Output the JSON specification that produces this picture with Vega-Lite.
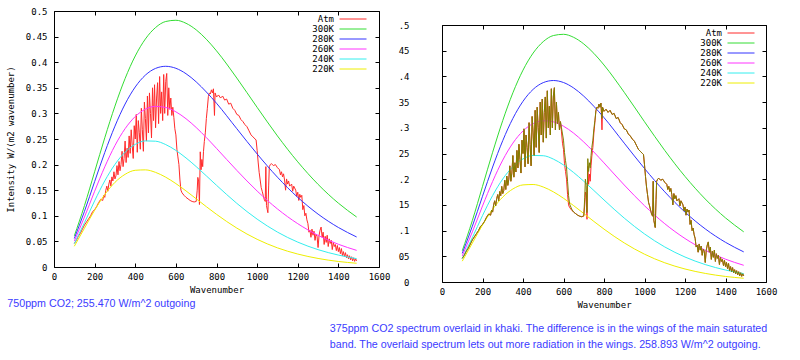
{
  "$schema": "https://vega.github.io/schema/vega-lite/v6.json",
  "background": "white",
  "padding": {"left": 5, "top": 6, "right": 5, "bottom": 5},
  "datasets": {
    "planck": [
      {"s":"300K","x":100,"y":0.0608},{"s":"300K","x":150,"y":0.1199},{"s":"300K","x":200,"y":0.1860},{"s":"300K","x":250,"y":0.2524},{"s":"300K","x":300,"y":0.3142},{"s":"300K","x":350,"y":0.3681},{"s":"300K","x":400,"y":0.4122},{"s":"300K","x":450,"y":0.4454},{"s":"300K","x":500,"y":0.4677},{"s":"300K","x":550,"y":0.4795},{"s":"300K","x":600,"y":0.4819},{"s":"300K","x":650,"y":0.4760},{"s":"300K","x":700,"y":0.4632},{"s":"300K","x":750,"y":0.4448},{"s":"300K","x":800,"y":0.4222},{"s":"300K","x":900,"y":0.3690},{"s":"300K","x":1000,"y":0.3118},{"s":"300K","x":1100,"y":0.2560},{"s":"300K","x":1200,"y":0.2054},{"s":"300K","x":1300,"y":0.1614},{"s":"300K","x":1400,"y":0.1247},{"s":"300K","x":1490,"y":0.0976},
      {"s":"280K","x":100,"y":0.0557},{"s":"280K","x":150,"y":0.1087},{"s":"280K","x":200,"y":0.1668},{"s":"280K","x":250,"y":0.2237},{"s":"280K","x":300,"y":0.2751},{"s":"280K","x":350,"y":0.3183},{"s":"280K","x":400,"y":0.3516},{"s":"280K","x":450,"y":0.3748},{"s":"280K","x":500,"y":0.3879},{"s":"280K","x":550,"y":0.3920},{"s":"280K","x":600,"y":0.3881},{"s":"280K","x":650,"y":0.3775},{"s":"280K","x":700,"y":0.3616},{"s":"280K","x":750,"y":0.3418},{"s":"280K","x":800,"y":0.3198},{"s":"280K","x":900,"y":0.2701},{"s":"280K","x":1000,"y":0.2208},{"s":"280K","x":1100,"y":0.1754},{"s":"280K","x":1200,"y":0.1360},{"s":"280K","x":1300,"y":0.1033},{"s":"280K","x":1400,"y":0.0772},{"s":"280K","x":1490,"y":0.0586},
      {"s":"260K","x":100,"y":0.0506},{"s":"260K","x":150,"y":0.0976},{"s":"260K","x":200,"y":0.1479},{"s":"260K","x":250,"y":0.1956},{"s":"260K","x":300,"y":0.2372},{"s":"260K","x":350,"y":0.2702},{"s":"260K","x":400,"y":0.2939},{"s":"260K","x":450,"y":0.3082},{"s":"260K","x":500,"y":0.3137},{"s":"260K","x":550,"y":0.3116},{"s":"260K","x":600,"y":0.3031},{"s":"260K","x":650,"y":0.2896},{"s":"260K","x":700,"y":0.2724},{"s":"260K","x":750,"y":0.2528},{"s":"260K","x":800,"y":0.2317},{"s":"260K","x":900,"y":0.1887},{"s":"260K","x":1000,"y":0.1484},{"s":"260K","x":1100,"y":0.1134},{"s":"260K","x":1200,"y":0.0846},{"s":"260K","x":1300,"y":0.0618},{"s":"260K","x":1400,"y":0.0444},{"s":"260K","x":1490,"y":0.0325},
      {"s":"240K","x":100,"y":0.0456},{"s":"240K","x":150,"y":0.0866},{"s":"240K","x":200,"y":0.1292},{"s":"240K","x":250,"y":0.1682},{"s":"240K","x":300,"y":0.2004},{"s":"240K","x":350,"y":0.2243},{"s":"240K","x":400,"y":0.2395},{"s":"240K","x":450,"y":0.2463},{"s":"240K","x":500,"y":0.2457},{"s":"240K","x":550,"y":0.2391},{"s":"240K","x":600,"y":0.2277},{"s":"240K","x":650,"y":0.2130},{"s":"240K","x":700,"y":0.1961},{"s":"240K","x":750,"y":0.1780},{"s":"240K","x":800,"y":0.1596},{"s":"240K","x":900,"y":0.1243},{"s":"240K","x":1000,"y":0.0935},{"s":"240K","x":1100,"y":0.0682},{"s":"240K","x":1200,"y":0.0486},{"s":"240K","x":1300,"y":0.0339},{"s":"240K","x":1400,"y":0.0233},{"s":"240K","x":1490,"y":0.0163},
      {"s":"220K","x":100,"y":0.0405},{"s":"220K","x":150,"y":0.0758},{"s":"220K","x":200,"y":0.1109},{"s":"220K","x":250,"y":0.1416},{"s":"220K","x":300,"y":0.1653},{"s":"220K","x":350,"y":0.1810},{"s":"220K","x":400,"y":0.1889},{"s":"220K","x":450,"y":0.1897},{"s":"220K","x":500,"y":0.1848},{"s":"220K","x":550,"y":0.1754},{"s":"220K","x":600,"y":0.1629},{"s":"220K","x":650,"y":0.1486},{"s":"220K","x":700,"y":0.1333},{"s":"220K","x":750,"y":0.1178},{"s":"220K","x":800,"y":0.1029},{"s":"220K","x":900,"y":0.0760},{"s":"220K","x":1000,"y":0.0541},{"s":"220K","x":1100,"y":0.0374},{"s":"220K","x":1200,"y":0.0253},{"s":"220K","x":1300,"y":0.0167},{"s":"220K","x":1400,"y":0.0108},{"s":"220K","x":1490,"y":0.0073}
    ],
    "atm": [
      {"x":100,"a":0.046,"k":0.046},{"x":110,"a":0.052,"k":0.052},{"x":120,"a":0.060,"k":0.060},{"x":130,"a":0.066,"k":0.066},{"x":140,"a":0.074,"k":0.074},{"x":150,"a":0.082,"k":0.082},{"x":160,"a":0.088,"k":0.088},{"x":170,"a":0.094,"k":0.094},{"x":180,"a":0.100,"k":0.100},{"x":190,"a":0.108,"k":0.108},{"x":200,"a":0.112,"k":0.112},{"x":210,"a":0.118,"k":0.118},{"x":220,"a":0.126,"k":0.126},{"x":230,"a":0.132,"k":0.132},{"x":240,"a":0.130,"k":0.130},{"x":245,"a":0.140,"k":0.140},{"x":250,"a":0.136,"k":0.136},{"x":255,"a":0.150,"k":0.150},{"x":260,"a":0.158,"k":0.158},{"x":265,"a":0.148,"k":0.148},{"x":270,"a":0.162,"k":0.162},{"x":275,"a":0.170,"k":0.170},{"x":280,"a":0.158,"k":0.158},{"x":285,"a":0.176,"k":0.176},{"x":290,"a":0.168,"k":0.168},{"x":295,"a":0.186,"k":0.186},{"x":300,"a":0.172,"k":0.172},{"x":305,"a":0.178,"k":0.178},{"x":310,"a":0.198,"k":0.198},{"x":315,"a":0.180,"k":0.180},{"x":320,"a":0.206,"k":0.206},{"x":325,"a":0.188,"k":0.188},{"x":330,"a":0.200,"k":0.200},{"x":335,"a":0.226,"k":0.226},{"x":340,"a":0.196,"k":0.196},{"x":345,"a":0.212,"k":0.212},{"x":350,"a":0.246,"k":0.246},{"x":355,"a":0.204,"k":0.204},{"x":360,"a":0.232,"k":0.232},{"x":365,"a":0.214,"k":0.214},{"x":370,"a":0.256,"k":0.256},{"x":375,"a":0.222,"k":0.222},{"x":380,"a":0.268,"k":0.268},{"x":385,"a":0.238,"k":0.238},{"x":390,"a":0.212,"k":0.212},{"x":395,"a":0.276,"k":0.276},{"x":400,"a":0.250,"k":0.250},{"x":405,"a":0.298,"k":0.298},{"x":410,"a":0.224,"k":0.224},{"x":415,"a":0.286,"k":0.286},{"x":420,"a":0.262,"k":0.262},{"x":425,"a":0.230,"k":0.230},{"x":430,"a":0.310,"k":0.310},{"x":435,"a":0.268,"k":0.268},{"x":440,"a":0.226,"k":0.226},{"x":445,"a":0.322,"k":0.322},{"x":450,"a":0.290,"k":0.290},{"x":455,"a":0.246,"k":0.246},{"x":460,"a":0.334,"k":0.334},{"x":465,"a":0.262,"k":0.262},{"x":470,"a":0.340,"k":0.340},{"x":475,"a":0.300,"k":0.300},{"x":480,"a":0.252,"k":0.252},{"x":485,"a":0.350,"k":0.350},{"x":490,"a":0.286,"k":0.286},{"x":495,"a":0.356,"k":0.356},{"x":500,"a":0.272,"k":0.272},{"x":505,"a":0.330,"k":0.330},{"x":510,"a":0.360,"k":0.360},{"x":515,"a":0.280,"k":0.280},{"x":520,"a":0.372,"k":0.372},{"x":525,"a":0.300,"k":0.300},{"x":530,"a":0.342,"k":0.342},{"x":535,"a":0.286,"k":0.286},{"x":540,"a":0.376,"k":0.376},{"x":545,"a":0.300,"k":0.300},{"x":550,"a":0.362,"k":0.362},{"x":555,"a":0.378,"k":0.378},{"x":560,"a":0.296,"k":0.296},{"x":565,"a":0.350,"k":0.350},{"x":570,"a":0.308,"k":0.308},{"x":575,"a":0.330,"k":0.330},{"x":580,"a":0.296,"k":0.296},{"x":585,"a":0.312,"k":0.312},{"x":590,"a":0.292,"k":0.300},{"x":595,"a":0.270,"k":0.288},{"x":600,"a":0.258,"k":0.276},{"x":605,"a":0.230,"k":0.252},{"x":610,"a":0.215,"k":0.236},{"x":615,"a":0.200,"k":0.222},{"x":620,"a":0.170,"k":0.196},{"x":625,"a":0.150,"k":0.168},{"x":630,"a":0.145,"k":0.152},{"x":640,"a":0.140,"k":0.142},{"x":650,"a":0.136,"k":0.136},{"x":660,"a":0.133,"k":0.133},{"x":670,"a":0.130,"k":0.130},{"x":680,"a":0.128,"k":0.128},{"x":690,"a":0.127,"k":0.127},{"x":700,"a":0.128,"k":0.129},{"x":705,"a":0.150,"k":0.165},{"x":708,"a":0.175,"k":0.200},{"x":712,"a":0.168,"k":0.188},{"x":716,"a":0.122,"k":0.135},{"x":720,"a":0.225,"k":0.240},{"x":724,"a":0.190,"k":0.215},{"x":728,"a":0.210,"k":0.232},{"x":732,"a":0.196,"k":0.222},{"x":736,"a":0.226,"k":0.246},{"x":740,"a":0.245,"k":0.262},{"x":745,"a":0.262,"k":0.276},{"x":750,"a":0.290,"k":0.298},{"x":755,"a":0.310,"k":0.314},{"x":760,"a":0.333,"k":0.333},{"x":765,"a":0.340,"k":0.340},{"x":770,"a":0.338,"k":0.338},{"x":775,"a":0.346,"k":0.346},{"x":780,"a":0.340,"k":0.340},{"x":785,"a":0.348,"k":0.348},{"x":790,"a":0.296,"k":0.318},{"x":793,"a":0.340,"k":0.340},{"x":800,"a":0.332,"k":0.332},{"x":810,"a":0.336,"k":0.336},{"x":820,"a":0.330,"k":0.330},{"x":830,"a":0.334,"k":0.334},{"x":840,"a":0.326,"k":0.326},{"x":850,"a":0.328,"k":0.328},{"x":860,"a":0.318,"k":0.318},{"x":870,"a":0.320,"k":0.320},{"x":880,"a":0.310,"k":0.310},{"x":890,"a":0.306,"k":0.306},{"x":900,"a":0.298,"k":0.298},{"x":910,"a":0.296,"k":0.296},{"x":920,"a":0.288,"k":0.288},{"x":930,"a":0.284,"k":0.284},{"x":940,"a":0.278,"k":0.278},{"x":950,"a":0.274,"k":0.274},{"x":960,"a":0.266,"k":0.266},{"x":970,"a":0.258,"k":0.258},{"x":980,"a":0.254,"k":0.254},{"x":990,"a":0.250,"k":0.250},{"x":995,"a":0.248,"k":0.248},{"x":1000,"a":0.228,"k":0.228},{"x":1005,"a":0.205,"k":0.205},{"x":1010,"a":0.185,"k":0.185},{"x":1015,"a":0.170,"k":0.170},{"x":1020,"a":0.155,"k":0.155},{"x":1025,"a":0.148,"k":0.148},{"x":1030,"a":0.140,"k":0.140},{"x":1035,"a":0.132,"k":0.132},{"x":1040,"a":0.128,"k":0.128},{"x":1043,"a":0.196,"k":0.196},{"x":1046,"a":0.120,"k":0.120},{"x":1050,"a":0.112,"k":0.112},{"x":1053,"a":0.106,"k":0.106},{"x":1057,"a":0.160,"k":0.160},{"x":1060,"a":0.196,"k":0.196},{"x":1065,"a":0.200,"k":0.200},{"x":1070,"a":0.202,"k":0.202},{"x":1080,"a":0.198,"k":0.198},{"x":1090,"a":0.200,"k":0.200},{"x":1100,"a":0.194,"k":0.194},{"x":1110,"a":0.190,"k":0.190},{"x":1115,"a":0.180,"k":0.180},{"x":1120,"a":0.186,"k":0.186},{"x":1125,"a":0.176,"k":0.176},{"x":1130,"a":0.182,"k":0.182},{"x":1135,"a":0.170,"k":0.170},{"x":1140,"a":0.150,"k":0.150},{"x":1145,"a":0.172,"k":0.172},{"x":1150,"a":0.162,"k":0.162},{"x":1155,"a":0.168,"k":0.168},{"x":1160,"a":0.158,"k":0.158},{"x":1170,"a":0.162,"k":0.162},{"x":1175,"a":0.148,"k":0.148},{"x":1180,"a":0.158,"k":0.158},{"x":1190,"a":0.150,"k":0.150},{"x":1195,"a":0.138,"k":0.138},{"x":1200,"a":0.146,"k":0.146},{"x":1205,"a":0.130,"k":0.130},{"x":1210,"a":0.142,"k":0.142},{"x":1215,"a":0.136,"k":0.136},{"x":1220,"a":0.140,"k":0.140},{"x":1225,"a":0.112,"k":0.112},{"x":1230,"a":0.120,"k":0.120},{"x":1235,"a":0.100,"k":0.100},{"x":1240,"a":0.105,"k":0.105},{"x":1245,"a":0.092,"k":0.092},{"x":1250,"a":0.085,"k":0.085},{"x":1255,"a":0.068,"k":0.068},{"x":1260,"a":0.072,"k":0.072},{"x":1265,"a":0.058,"k":0.058},{"x":1270,"a":0.074,"k":0.074},{"x":1275,"a":0.062,"k":0.062},{"x":1280,"a":0.070,"k":0.070},{"x":1285,"a":0.052,"k":0.052},{"x":1290,"a":0.064,"k":0.064},{"x":1295,"a":0.060,"k":0.060},{"x":1300,"a":0.038,"k":0.038},{"x":1305,"a":0.062,"k":0.062},{"x":1310,"a":0.072,"k":0.072},{"x":1315,"a":0.078,"k":0.078},{"x":1320,"a":0.058,"k":0.058},{"x":1325,"a":0.068,"k":0.068},{"x":1330,"a":0.044,"k":0.044},{"x":1335,"a":0.060,"k":0.060},{"x":1340,"a":0.048,"k":0.048},{"x":1345,"a":0.062,"k":0.062},{"x":1350,"a":0.040,"k":0.040},{"x":1355,"a":0.055,"k":0.055},{"x":1360,"a":0.046,"k":0.046},{"x":1365,"a":0.052,"k":0.052},{"x":1370,"a":0.034,"k":0.034},{"x":1375,"a":0.048,"k":0.048},{"x":1380,"a":0.040,"k":0.040},{"x":1385,"a":0.044,"k":0.044},{"x":1390,"a":0.032,"k":0.032},{"x":1395,"a":0.042,"k":0.042},{"x":1400,"a":0.030,"k":0.030},{"x":1405,"a":0.038,"k":0.038},{"x":1410,"a":0.026,"k":0.026},{"x":1415,"a":0.036,"k":0.036},{"x":1420,"a":0.022,"k":0.022},{"x":1425,"a":0.030,"k":0.030},{"x":1430,"a":0.020,"k":0.020},{"x":1435,"a":0.028,"k":0.028},{"x":1440,"a":0.018,"k":0.018},{"x":1445,"a":0.024,"k":0.024},{"x":1450,"a":0.016,"k":0.016},{"x":1455,"a":0.022,"k":0.022},{"x":1460,"a":0.014,"k":0.014},{"x":1465,"a":0.020,"k":0.020},{"x":1470,"a":0.012,"k":0.012},{"x":1475,"a":0.018,"k":0.018},{"x":1480,"a":0.011,"k":0.011},{"x":1485,"a":0.016,"k":0.016},{"x":1490,"a":0.012,"k":0.012}
    ]
  },
  "title": {
    "text": ["375ppm CO2 spectrum overlaid in khaki. The difference is in the wings of the main saturated", "band. The overlaid spectrum lets out more radiation in the wings. 258.893 W/m^2 outgoing."],
    "orient": "bottom", "anchor": "start", "frame": "bounds", "dx": 324, "offset": 14,
    "font": "Liberation Sans, Arial, sans-serif", "fontSize": 10.7, "fontWeight": "normal", "color": "#3b3bff", "lineHeight": 16
  },
  "config": {
    "view": {"stroke": "#000", "strokeWidth": 1},
    "axis": {
      "labelFont": "DejaVu Sans Mono", "labelFontSize": 9, "labelColor": "#000",
      "titleFont": "DejaVu Sans Mono", "titleFontSize": 9, "titleFontWeight": "normal", "titleColor": "#000",
      "domain": false, "grid": false, "tickColor": "#000", "tickSize": -4, "tickWidth": 1,
      "labelFlush": false, "labelOverlap": false
    },
    "line": {"strokeWidth": 1}
  },
  "resolve": {"scale": {"color": "independent"}, "legend": {"color": "independent"}},
  "spacing": 6,
  "hconcat": [
    {
      "width": 325, "height": 256,
      "title": {"text": "750ppm CO2; 255.470 W/m^2 outgoing", "orient": "bottom", "anchor": "start", "frame": "bounds", "offset": 5, "dx": 1,
        "font": "Liberation Sans, Arial, sans-serif", "fontSize": 10.7, "fontWeight": "normal", "color": "#3b3bff"},
      "resolve": {"axis": {"x": "independent", "y": "independent"}},
      "layer": [
        {
          "data": {"name": "atm"},
          "mark": {"type": "line", "color": "#ff2a2a", "strokeWidth": 1},
          "encoding": {
            "x": {"field": "x", "type": "quantitative", "scale": {"domain": [0, 1600]},
              "axis": {"orient": "bottom", "title": "Wavenumber", "values": [0,200,400,600,800,1000,1200,1400,1600], "format": "d", "labelPadding": 9, "titlePadding": 4}},
            "y": {"field": "a", "type": "quantitative", "scale": {"domain": [0, 0.5]},
              "axis": {"orient": "left", "title": "Intensity W/(m2 wavenumber)", "format": ".2~f", "values": [0,0.05,0.1,0.15,0.2,0.25,0.3,0.35,0.4,0.45,0.5], "labelPadding": 11, "titlePadding": 10}}
          }
        },
        {
          "data": {"name": "planck"},
          "mark": {"type": "line", "interpolate": "monotone", "strokeWidth": 1},
          "encoding": {
            "x": {"field": "x", "type": "quantitative", "scale": {"domain": [0, 1600]},
              "axis": {"orient": "top", "title": null, "labels": false, "values": [0,200,400,600,800,1000,1200,1400,1600]}},
            "y": {"field": "y", "type": "quantitative", "scale": {"domain": [0, 0.5]},
              "axis": {"orient": "right", "title": null, "labels": false, "values": [0,0.05,0.1,0.15,0.2,0.25,0.3,0.35,0.4,0.45,0.5]}},
            "color": {"field": "s", "type": "nominal",
              "scale": {"domain": ["Atm","300K","280K","260K","240K","220K"], "range": ["#ff2a2a","#33dd33","#3333ff","#ff33ff","#33eeee","#eeee00"]},
              "legend": {"orient": "none", "legendX": 294, "legendY": 3, "title": null, "symbolType": "M-3,0H3", "symbolSize": 81, "symbolStrokeWidth": 1,
                "labelFont": "DejaVu Sans Mono", "labelFontSize": 9, "labelColor": "#000", "labelAlign": "right", "labelOffset": -24, "rowPadding": -1.6, "padding": 0}}
          }
        }
      ]
    },
    {
      "spacing": 0,
      "resolve": {"scale": {"color": "independent"}, "legend": {"color": "independent"}},
      "vconcat": [
        {"width": 10, "height": 9, "view": {"stroke": null}, "data": {"values": []}, "mark": {"type": "rule"}, "encoding": {}},
        {
          "width": 324, "height": 257,
          "resolve": {"axis": {"x": "independent", "y": "independent"}},
          "layer": [
            {
              "data": {"name": "atm"},
              "mark": {"type": "line", "color": "#ff2a2a", "strokeWidth": 1},
              "encoding": {
                "x": {"field": "x", "type": "quantitative", "scale": {"domain": [0, 1600]},
                  "axis": {"orient": "bottom", "title": "Wavenumber", "values": [0,200,400,600,800,1000,1200,1400,1600], "format": "d", "labelPadding": 9, "titlePadding": 4}},
                "y": {"field": "a", "type": "quantitative", "scale": {"domain": [0, 0.5]},
                  "axis": {"orient": "left", "title": null, "values": [0,0.05,0.1,0.15,0.2,0.25,0.3,0.35,0.4,0.45,0.5], "labelPadding": 37,
                    "labelExpr": "format(datum.value, '.2f') == '0.00' ? '0' : (substring(format(datum.value, '.2f'), 3, 4) == '0' ? substring(format(datum.value, '.2f'), 1, 3) : substring(format(datum.value, '.2f'), 2, 4))"}}
              }
            },
            {
              "data": {"name": "planck"},
              "mark": {"type": "line", "interpolate": "monotone", "strokeWidth": 1},
              "encoding": {
                "x": {"field": "x", "type": "quantitative", "scale": {"domain": [0, 1600]},
                  "axis": {"orient": "top", "title": null, "labels": false, "values": [0,200,400,600,800,1000,1200,1400,1600]}},
                "y": {"field": "y", "type": "quantitative", "scale": {"domain": [0, 0.5]},
                  "axis": {"orient": "right", "title": null, "labels": false, "values": [0,0.05,0.1,0.15,0.2,0.25,0.3,0.35,0.4,0.45,0.5]}},
                "color": {"field": "s", "type": "nominal",
                  "scale": {"domain": ["Atm","300K","280K","260K","240K","220K"], "range": ["#ff2a2a","#33dd33","#3333ff","#ff33ff","#33eeee","#eeee00"]},
                  "legend": {"orient": "none", "legendX": 294, "legendY": 3, "title": null, "symbolType": "M-3,0H3", "symbolSize": 81, "symbolStrokeWidth": 1,
                    "labelFont": "DejaVu Sans Mono", "labelFontSize": 9, "labelColor": "#000", "labelAlign": "right", "labelOffset": -24, "rowPadding": -1.6, "padding": 0}}
              }
            },
            {
              "data": {"name": "atm"},
              "mark": {"type": "line", "color": "#808000", "strokeWidth": 1},
              "encoding": {
                "x": {"field": "x", "type": "quantitative", "scale": {"domain": [0, 1600]}, "axis": null},
                "y": {"field": "k", "type": "quantitative", "scale": {"domain": [0, 0.5]}, "axis": null}
              }
            }
          ]
        }
      ]
    }
  ]
}
